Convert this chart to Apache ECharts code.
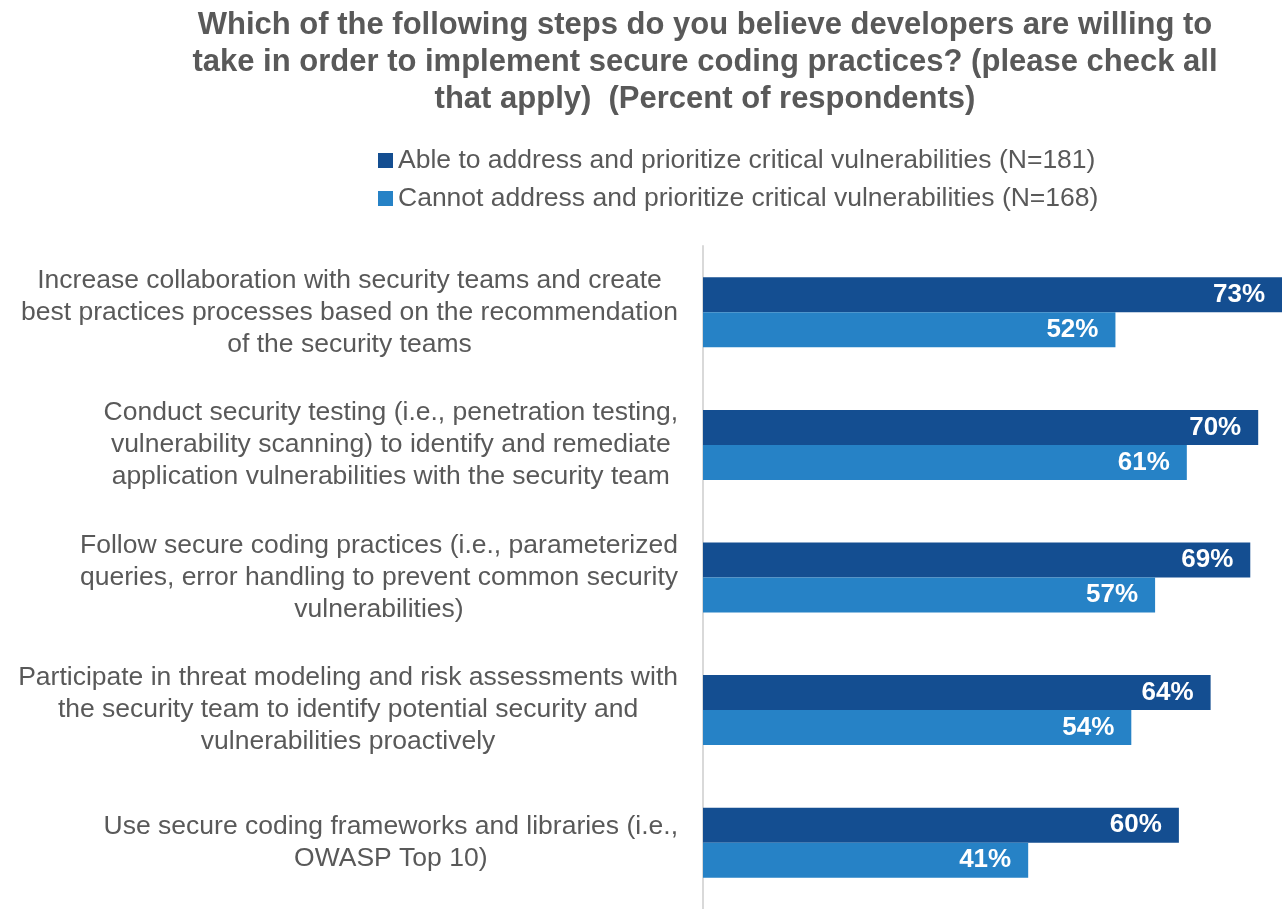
<!DOCTYPE html>
<html>
<head>
<meta charset="utf-8">
<style>
  html, body { margin: 0; padding: 0; background: #ffffff; }
  #chart { width: 1282px; height: 909px; }
</style>
<script src="https://cdn.jsdelivr.net/npm/echarts@6/dist/echarts.min.js"></script>
</head>
<body>
<div id="chart"></div>
<script>
// Survey steps (axis labels, already broken into lines)
const categories = [
  'Increase collaboration with security teams and create\nbest practices processes based on the recommendation\nof the security teams',
  'Conduct security testing (i.e., penetration testing,\nvulnerability scanning) to identify and remediate\napplication vulnerabilities with the security team',
  'Follow secure coding practices (i.e., parameterized\nqueries, error handling to prevent common security\nvulnerabilities)',
  'Participate in threat modeling and risk assessments with\nthe security team to identify potential security and\nvulnerabilities proactively',
  'Use secure coding frameworks and libraries (i.e.,\nOWASP Top 10)'
];

const seriesNames = [
  'Able to address and prioritize critical vulnerabilities (N=181)',
  'Cannot address and prioritize critical vulnerabilities (N=168)'
];

// Percent of respondents
const ableValues = [73, 70, 69, 64, 60];
const cannotValues = [52, 61, 57, 54, 41];

const titleText = 'Which of the following steps do you believe developers are willing to\ntake in order to implement secure coding practices? (please check all\nthat apply)  (Percent of respondents)';

const textGray = '#595959';
const font = 'Liberation Sans';

const chart = echarts.init(document.getElementById('chart'));

const valueLabel = {
  show: true,
  position: 'insideRight',
  distance: 17,
  color: '#ffffff',
  fontWeight: 'bold',
  fontSize: 26,
  fontFamily: font,
  formatter: p => p.value + '%'
};

chart.setOption({
  animation: false,
  backgroundColor: '#ffffff',
  textStyle: { fontFamily: font },
  title: {
    text: titleText,
    left: 700,
    top: 2,
    textAlign: 'center',
    textStyle: {
      color: textGray,
      fontSize: 31,
      fontWeight: 'bold',
      lineHeight: 37,
      fontFamily: font
    }
  },
  legend: {
    orient: 'vertical',
    left: 378,
    top: 147,
    padding: 0,
    itemWidth: 15,
    itemHeight: 15,
    itemGap: 11,
    icon: 'rect',
    textStyle: { color: textGray, fontSize: 26.5, fontFamily: font },
    data: seriesNames
  },
  grid: {
    left: 703,
    right: 0,
    top: 246,
    bottom: -4,
    containLabel: false
  },
  xAxis: {
    type: 'value',
    min: 0,
    max: 73,
    show: false
  },
  yAxis: {
    type: 'category',
    inverse: true,
    data: categories,
    axisLine: { show: true, lineStyle: { color: '#d9d9d9', width: 2 } },
    axisTick: { show: false },
    axisLabel: {
      margin: 25,
      align: 'right',
      color: textGray,
      fontSize: 26.5,
      lineHeight: 32,
      fontFamily: font,
      formatter: v => v.split('\n').map(l => '{c|' + l + '}').join('\n'),
      rich: {
        c: { align: 'center', color: textGray, fontSize: 26.5, lineHeight: 32, fontFamily: font }
      }
    }
  },
  series: [
    {
      name: seriesNames[0],
      type: 'bar',
      data: ableValues,
      barWidth: 35,
      barGap: '0%',
      itemStyle: { color: '#144E91' },
      label: valueLabel
    },
    {
      name: seriesNames[1],
      type: 'bar',
      data: cannotValues,
      barWidth: 35,
      barGap: '0%',
      itemStyle: { color: '#2682C6' },
      label: valueLabel
    }
  ]
});
</script>
</body>
</html>
